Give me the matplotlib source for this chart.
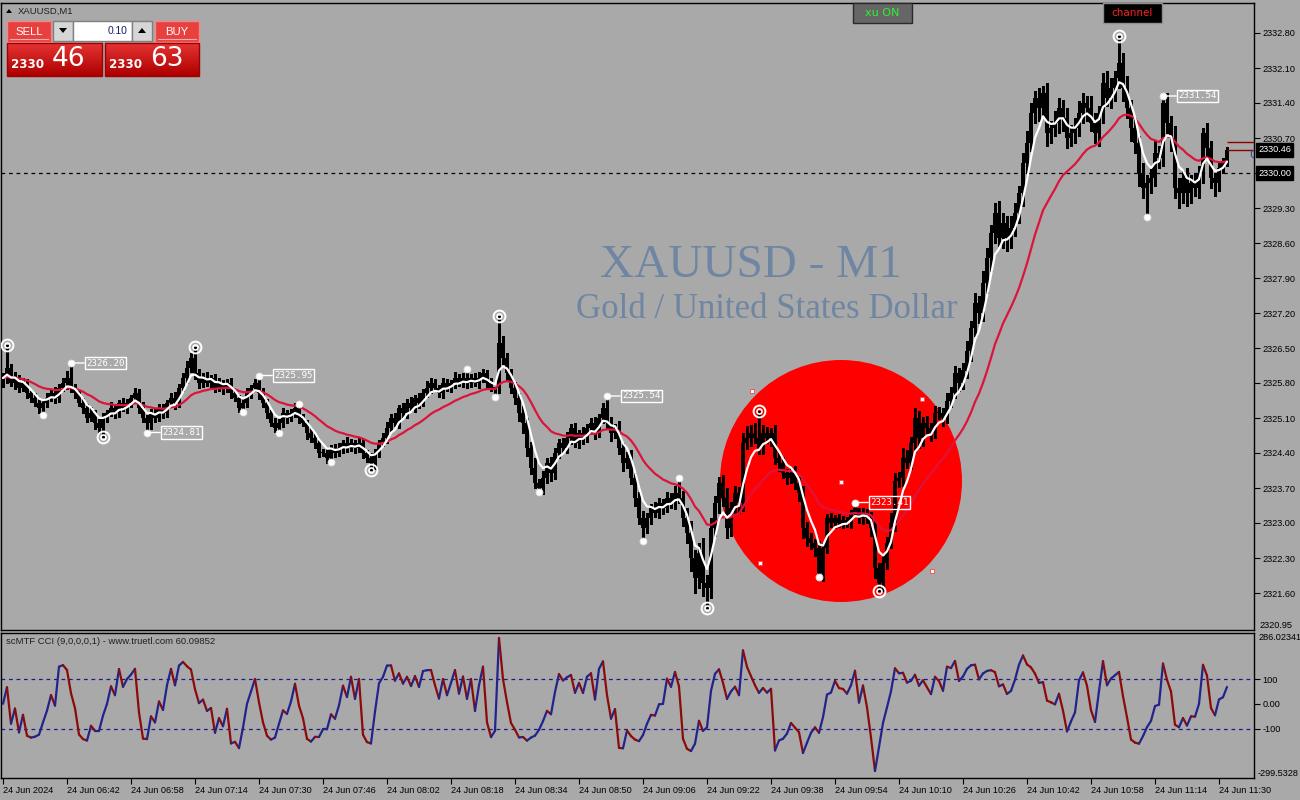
import numpy as np
import pandas as pd
import matplotlib
matplotlib.use("Agg")
import matplotlib.pyplot as plt
from matplotlib.patches import Rectangle, Ellipse, Polygon
from matplotlib.collections import LineCollection
from matplotlib.transforms import blended_transform_factory

# ---------------- data ----------------
symbol_title = "XAUUSD,M1"
watermark_1 = "XAUUSD - M1"
watermark_2 = "Gold / United States Dollar"
cci_title = "scMTF CCI (9,0,0,0,1) - www.truetl.com 60.09852"

first_open = 2325.8
closes = [
    2325.9, 2326.1, 2325.8, 2325.9, 2325.7, 2325.8, 2325.6, 2325.5, 2325.4, 2325.3,
    2325.4, 2325.5, 2325.6, 2325.5, 2325.7, 2325.8, 2325.9, 2325.7, 2325.6, 2325.4,
    2325.3, 2325.1, 2325.2, 2325.0, 2324.9, 2325.1, 2325.2, 2325.3, 2325.2, 2325.4,
    2325.3, 2325.4, 2325.5, 2325.6, 2325.3, 2325.1, 2325.0, 2325.2, 2325.1, 2325.3,
    2325.2, 2325.4, 2325.5, 2325.4, 2325.7, 2325.9, 2326.1, 2326.3, 2326.0, 2325.8,
    2325.9, 2325.8, 2325.9, 2325.7, 2325.8, 2325.7, 2325.8, 2325.6, 2325.5, 2325.3,
    2325.4, 2325.6, 2325.7, 2325.8, 2325.6, 2325.4, 2325.2, 2325.0, 2324.9, 2325.0,
    2325.2, 2325.1, 2325.2, 2325.3, 2325.1, 2325.0, 2324.8, 2324.7, 2324.6, 2324.4,
    2324.4, 2324.3, 2324.5, 2324.4, 2324.5, 2324.6, 2324.5, 2324.6, 2324.5, 2324.6,
    2324.4, 2324.3, 2324.2, 2324.4, 2324.6, 2324.7, 2324.9, 2325.1, 2325.0, 2325.3,
    2325.2, 2325.4, 2325.3, 2325.5, 2325.4, 2325.6, 2325.7, 2325.8, 2325.7, 2325.6,
    2325.8, 2325.7, 2325.8, 2325.9, 2325.8, 2325.9, 2325.8, 2325.9, 2325.8, 2325.9,
    2326.0, 2325.8, 2325.7, 2325.7, 2326.6, 2326.3, 2326.0, 2325.7, 2325.5, 2325.2,
    2325.0, 2324.5, 2324.1, 2323.8, 2323.7, 2323.9, 2324.2, 2324.0, 2324.4, 2324.6,
    2324.5, 2324.7, 2324.9, 2324.6, 2324.8, 2324.7, 2324.9, 2325.0, 2324.8, 2325.1,
    2325.3, 2325.0, 2324.8, 2324.9, 2324.5, 2324.2, 2324.3, 2323.9, 2323.5, 2323.1,
    2322.9, 2323.1, 2323.3, 2323.2, 2323.4, 2323.3, 2323.5, 2323.4, 2323.6, 2323.5,
    2323.1, 2322.8, 2322.3, 2321.9, 2322.4, 2321.8, 2321.7, 2322.9, 2323.4, 2323.8,
    2323.5, 2322.9, 2323.3, 2323.6, 2323.4, 2324.6, 2324.7, 2324.8, 2324.7, 2324.5,
    2324.8, 2324.7, 2324.8, 2324.3, 2324.2, 2324.0, 2323.9, 2324.0, 2323.8, 2323.6,
    2322.9, 2322.7, 2322.6, 2322.5, 2322.0, 2322.5, 2323.1, 2323.0, 2323.1, 2323.0,
    2323.05, 2323.0, 2323.2, 2323.3, 2323.1, 2323.2, 2323.1, 2322.9, 2322.1, 2321.8,
    2322.2, 2322.6, 2323.0, 2323.85, 2323.9, 2324.3, 2324.2, 2324.6, 2325.1, 2324.7,
    2325.0, 2324.9, 2324.8, 2325.2, 2325.2, 2325.1, 2325.45, 2325.6, 2326.0, 2325.8,
    2326.05, 2326.45, 2326.9, 2327.4, 2327.2, 2327.8, 2328.3, 2328.8, 2329.2, 2328.7,
    2329.0, 2328.7, 2328.9, 2329.2, 2329.6, 2330.2, 2330.6, 2331.2, 2331.5, 2331.3,
    2331.6, 2330.8, 2330.9, 2331.0, 2331.3, 2331.1, 2330.7, 2330.8, 2330.9, 2331.2,
    2331.4, 2331.3, 2331.0, 2330.8, 2331.2, 2331.8, 2331.5, 2331.7, 2331.9, 2332.2,
    2331.7, 2331.3, 2330.9, 2330.6, 2330.0, 2329.7, 2329.8, 2329.9, 2330.4, 2330.3,
    2331.4, 2331.0, 2330.7, 2329.7, 2329.6, 2329.9, 2329.6, 2329.8, 2329.7, 2330.0,
    2330.8, 2330.5, 2329.9, 2329.8, 2330.1, 2330.2, 2330.46,
]
# wick lengths in hundredths of a dollar
wick_up = [
    10, 0, 8, 12, 6, 10, 8, 5, 10, 7,  8, 10, 6, 12, 8, 10, 15, 0, 8, 6,
    10, 8, 12, 6, 8, 10, 7, 12, 8, 6,  10, 8, 6, 10, 8, 12, 6, 8, 10, 7,
    8, 6, 10, 12, 8, 10, 15, 10, 0, 8,  10, 12, 6, 8, 10, 6, 8, 10, 7, 6,
    8, 10, 6, 8, 0, 10, 8, 6, 10, 8,  10, 6, 8, 10, 0, 8, 6, 10, 8, 6,
    8, 10, 6, 8, 10, 6, 12, 8, 6, 10,  8, 6, 10, 8, 6, 10, 12, 8, 10, 6,
    10, 8, 12, 6, 10, 8, 15, 10, 8, 6,  10, 8, 6, 12, 8, 10, 0, 8, 10, 12,
    8, 6, 10, 0, 0, 15, 10, 8, 12, 10,  15, 10, 12, 20, 8, 15, 10, 12, 10, 8,
    10, 12, 8, 10, 6, 12, 8, 10, 12, 8,  10, 0, 12, 8, 15, 10, 12, 15, 10, 12,
    15, 10, 8, 12, 10, 8, 12, 10, 15, 0,  15, 20, 25, 15, 20, 30, 15, 20, 15, 12,
    15, 20, 12, 15, 12, 20, 25, 15, 20, 0,  15, 12, 10, 15, 10, 12, 8, 10, 15, 12,
    15, 12, 10, 8, 15, 10, 8, 10, 6, 8,  10, 8, 6, 12, 0, 10, 8, 12, 15, 10,
    15, 12, 20, 15, 12, 20, 15, 12, 20, 15,  12, 15, 10, 15, 12, 10, 15, 12, 15, 10,
    15, 20, 15, 20, 15, 25, 20, 15, 20, 25,  20, 15, 25, 20, 15, 20, 25, 20, 15, 20,
    15, 20, 15, 25, 20, 15, 20, 15, 20, 25,  20, 15, 25, 20, 15, 20, 25, 20, 15, 0,
    20, 25, 15, 20, 15, 20, 15, 20, 25, 15,  0, 20, 15, 25, 20, 15, 20, 15, 20, 15,
    10, 20, 15, 10, 15, 10, 5,
]
wick_dn = [
    8, 10, 6, 12, 8, 6, 10, 8, 6, 10,  0, 8, 6, 10, 8, 6, 12, 8, 10, 6,
    10, 8, 6, 12, 10, 0, 8, 6, 10, 8,  6, 10, 8, 6, 10, 8, 0, 12, 8, 6,
    10, 8, 6, 12, 8, 6, 10, 8, 12, 10,  8, 6, 10, 8, 6, 12, 8, 10, 6, 8,
    0, 8, 10, 6, 12, 8, 10, 6, 8, 0,  8, 10, 6, 8, 10, 6, 12, 8, 10, 8,
    6, 10, 0, 8, 6, 10, 8, 6, 10, 8,  10, 8, 0, 12, 8, 6, 10, 8, 6, 10,
    8, 10, 6, 8, 10, 6, 8, 10, 6, 8,  10, 6, 8, 10, 6, 8, 10, 8, 6, 10,
    8, 10, 6, 0, 10, 12, 15, 10, 12, 15,  20, 15, 12, 10, 0, 12, 10, 15, 12, 10,
    8, 10, 12, 8, 10, 12, 8, 10, 12, 8,  10, 12, 15, 10, 12, 15, 10, 12, 15, 12,
    0, 10, 12, 8, 10, 12, 8, 10, 12, 10,  15, 20, 25, 30, 20, 25, 0, 20, 15, 20,
    15, 20, 15, 12, 20, 15, 12, 15, 10, 12,  12, 10, 15, 12, 15, 10, 12, 10, 12, 15,
    20, 15, 12, 15, 0, 15, 10, 8, 10, 8,  10, 8, 10, 6, 10, 12, 10, 15, 20, 0,
    15, 12, 10, 15, 12, 15, 10, 12, 15, 20,  15, 12, 15, 10, 12, 15, 10, 12, 10, 15,
    12, 15, 20, 15, 20, 15, 20, 25, 20, 15,  20, 25, 20, 15, 20, 25, 20, 15, 20, 25,
    20, 25, 20, 15, 20, 25, 20, 15, 20, 15,  20, 25, 15, 20, 25, 20, 15, 20, 25, 20,
    25, 20, 25, 20, 25, 20, 0, 20, 15, 20,  15, 20, 25, 20, 30, 20, 25, 20, 15, 20,
    20, 15, 20, 25, 15, 10, 5,
]
# swing points (bar index -> price), drawn as markers
swing_highs = {1: 2326.56, 17: 2326.20, 48: 2326.52, 64: 2325.95, 74: 2325.38,
               116: 2326.08, 124: 2327.14, 151: 2325.54, 169: 2323.90,
               189: 2325.24, 213: 2323.41, 279: 2332.74, 290: 2331.54}
swing_lows = {10: 2325.16, 25: 2324.72, 36: 2324.81, 60: 2325.22, 69: 2324.80,
              82: 2324.22, 92: 2324.06, 123: 2325.52, 134: 2323.62, 160: 2322.64,
              176: 2321.30, 204: 2321.92, 219: 2321.64, 286: 2329.12}
ring_bars = [1, 25, 48, 92, 124, 176, 189, 219, 279]
labelled_bars = [17, 36, 64, 151, 213, 290]

bid, ask = 2330.46, 2330.63
level_line = 2330.00
price_ticks = [2332.80, 2332.10, 2331.40, 2330.70, 2330.00, 2329.30, 2328.60,
               2327.90, 2327.20, 2326.50, 2325.80, 2325.10, 2324.40, 2323.70,
               2323.00, 2322.30, 2321.60]
price_bottom_label = "2320.95"
cci_top, cci_bottom = 286.02341, -299.5328
cci_levels = [100, -100]
time_labels = ["24 Jun 2024", "24 Jun 06:42", "24 Jun 06:58", "24 Jun 07:14",
               "24 Jun 07:30", "24 Jun 07:46", "24 Jun 08:02", "24 Jun 08:18",
               "24 Jun 08:34", "24 Jun 08:50", "24 Jun 09:06", "24 Jun 09:22",
               "24 Jun 09:38", "24 Jun 09:54", "24 Jun 10:10", "24 Jun 10:26",
               "24 Jun 10:42", "24 Jun 10:58", "24 Jun 11:14", "24 Jun 11:30"]
bars_per_label = 16
# drawn ellipse object (bar index, price) and its handles
ellipse_center = (209.5, 2323.84)
ellipse_size = (60.5, 4.84)
ellipse_handles = [(187.25, 2325.64), (229.75, 2325.48), (189.25, 2322.20),
                   (232.25, 2322.04), (209.5, 2323.82)]
sell_price, buy_price = ("2330", "46"), ("2330", "63")
lot = "0.10"

# ---------------- derived ----------------
n = len(closes)
c = np.array(closes)
o = np.array([first_open] + closes[:-1])
hi = np.maximum(o, c) + np.array(wick_up) / 100.0
lo = np.minimum(o, c) - np.array(wick_dn) / 100.0
for k, v in swing_highs.items():
    hi[k] = v
for k, v in swing_lows.items():
    lo[k] = v
x = np.arange(n)
s = pd.Series(c)
ma_fast = s.ewm(span=5, adjust=False).mean().values
ma_slow = s.ewm(span=20, adjust=False).mean().values
sma = s.rolling(9, min_periods=1).mean()
md = s.rolling(9, min_periods=1).apply(lambda w: np.mean(np.abs(w - w.mean())), raw=True)
cci = ((s - sma) / (0.015 * md)).replace([np.inf, -np.inf], np.nan).fillna(0).values

# ---------------- figure ----------------
BG = "#A9A9A9"
W, H = 1300, 800
fig = plt.figure(figsize=(13, 8), dpi=100)
fig.patch.set_facecolor(BG)
def fx(px): return px / W
def fy(py): return 1 - py / H

AXL, AXR = 1, 1254
ax = fig.add_axes([fx(AXL), fy(630), (AXR - AXL) / W, (630 - 3) / H])
cax = fig.add_axes([fx(AXL), fy(778), (AXR - AXL) / W, (778 - 633) / H])
xl = ((AXL - 3) / 4.0, (AXR - 3) / 4.0)
for a in (ax, cax):
    a.set_facecolor(BG)
    a.set_xlim(*xl)
    for sp in a.spines.values():
        sp.set_color("black"); sp.set_linewidth(1)
ax.set_ylim(2320.86, 2333.40)
cax.set_ylim(cci_bottom, cci_top)

TF = "Liberation Sans"
# watermark
ax.text(fx(751), fy(266), watermark_1, transform=fig.transFigure, ha="center", va="center",
        family="Liberation Serif", fontsize=34, color="#6F86A2", zorder=0.5)
ax.text(fx(767), fy(309), watermark_2, transform=fig.transFigure, ha="center", va="center",
        family="Liberation Serif", fontsize=25, color="#6F86A2", zorder=0.5)

# ellipse
ax.add_patch(Ellipse(ellipse_center, ellipse_size[0], ellipse_size[1], fc="#FF0000",
                     ec="none", zorder=1))

# level line
ax.axhline(level_line, color="black", lw=0.9, ls=(0, (3, 3)), zorder=2)

# candles
ax.vlines(x, lo, hi, color="black", lw=1, zorder=3, antialiased=False)
bh = np.maximum(np.abs(c - o), 0.025)
ax.bar(x, bh, bottom=np.minimum(o, c), width=0.78, color="black", lw=0, zorder=3,
       antialiased=False)

# moving averages
ax.plot(x, ma_slow, color="#DC143C", lw=1.6, zorder=4, solid_capstyle="round")
ax.plot(x, ma_fast, color="white", lw=1.6, zorder=4.1, solid_capstyle="round")

# bid / ask lines
ax.hlines([ask, bid], n - 1, xl[1], color="#8B0000", lw=1, zorder=4)
ax.text(xl[1] - 1.2, bid - 0.1, "0", color="#2840A0", fontsize=8, ha="left", va="center",
        clip_on=True, zorder=4)

# swing markers
for k, v in list(swing_highs.items()) + list(swing_lows.items()):
    if k in ring_bars:
        ax.plot(k, v, "o", ms=8.5, mfc="none", mec="white", mew=1.4, zorder=6)
        ax.plot(k, v, "o", ms=3.6, mfc="none", mec="white", mew=1.2, zorder=6)
    else:
        ax.plot(k, v, "o", ms=5, mfc="white", mec="#E0E0E0", mew=0.6, zorder=6)
for k in labelled_bars:
    v = swing_highs.get(k, swing_lows.get(k))
    ax.annotate(f"{v:.2f}", xy=(k, v), xytext=(11, 0), textcoords="offset points",
                ha="left", va="center", color="white", fontsize=6.6, family="DejaVu Sans Mono",
                bbox=dict(boxstyle="square,pad=0.18", fc="none", ec="white", lw=1),
                arrowprops=dict(arrowstyle="-", color="white", lw=1, shrinkA=0, shrinkB=0),
                zorder=6)

# ellipse handles
for hx, hy in ellipse_handles:
    ax.plot(hx, hy, "s", ms=3, mfc="white", mec="#FF4040", mew=0.6, zorder=7)

# price axis (the 2330.00 level carries its own boxed label)
ax.yaxis.tick_right()
ax.set_yticks(price_ticks)
ax.set_yticklabels(["" if abs(v - level_line) < 1e-9 else f"{v:.2f}" for v in price_ticks],
                   family=TF, fontsize=6.6)
ax.tick_params(axis="y", direction="out", length=4, width=0.8, pad=2, colors="black")
ax.set_xticks([])
bt = blended_transform_factory(fig.transFigure, ax.transData)
ax.text(fx(1259), 2320.86, price_bottom_label, transform=bt, ha="left", va="bottom",
        family=TF, fontsize=6.6, color="black", clip_on=False)
for v in (bid, level_line):
    ax.text(fx(1258), v, f"{v:.2f}", transform=bt, ha="left", va="center", family=TF,
            fontsize=6.6, color="white", clip_on=False, zorder=10,
            bbox=dict(boxstyle="square,pad=0.22", fc="black", ec="black"))

# CCI
pts = np.column_stack([x, cci])
segs = np.stack([pts[:-1], pts[1:]], axis=1)
cols = ["#23238C" if cci[i + 1] >= cci[i] else "#8B0A0A" for i in range(n - 1)]
cax.add_collection(LineCollection(segs, colors=cols, linewidths=1.6, zorder=3,
                                  capstyle="round", joinstyle="round"))
for lv in cci_levels:
    cax.axhline(lv, color="#1A1A8C", lw=0.9, ls=(0, (3, 3)), zorder=2)
cax.yaxis.tick_right()
cax.set_yticks([100, 0, -100])
cax.set_yticklabels(["100", "0.00", "-100"], family=TF, fontsize=6.6)
cax.tick_params(axis="y", direction="out", length=4, width=0.8, pad=2, colors="black")
cbt = blended_transform_factory(fig.transFigure, cax.transAxes)
cax.text(fx(1258), 1.0, f"{cci_top:.5f}", transform=cbt, ha="left", va="top", family=TF,
         fontsize=6.6, color="black", clip_on=False)
cax.text(fx(1258), 0.0, f"{cci_bottom:.4f}", transform=cbt, ha="left", va="bottom", family=TF,
         fontsize=6.6, color="black", clip_on=False)
cax.text(0.004, 0.975, cci_title, transform=cax.transAxes, ha="left", va="top", family=TF,
         fontsize=6.8, color="#202020")
cax.set_xticks(np.arange(len(time_labels)) * bars_per_label)
cax.set_xticklabels(time_labels, family=TF, fontsize=6.6)
for t in cax.get_xticklabels():
    t.set_horizontalalignment("left")
cax.tick_params(axis="x", direction="out", length=4, width=0.8, pad=1.5, colors="black")

# ---------------- overlay UI (pixel coordinates) ----------------
oax = fig.add_axes([0, 0, 1, 1], zorder=20)
oax.set_xlim(0, W); oax.set_ylim(H, 0); oax.axis("off")
oax.patch.set_alpha(0)

oax.add_patch(Polygon([(6, 13), (12, 13), (9, 9)], closed=True, fc="black", ec="none"))
oax.text(18, 11, symbol_title, family=TF, fontsize=6.8, color="#202020", va="center")

def button(x0, y0, w, h, fc, ec, label=None, tc="white", fs=7.5, fam=TF, weight="normal"):
    oax.add_patch(Rectangle((x0, y0), w, h, fc=fc, ec=ec, lw=1))
    if label:
        oax.text(x0 + w / 2, y0 + h / 2 + 0.5, label, ha="center", va="center", color=tc,
                 fontsize=fs, family=fam, weight=weight)

button(7, 21, 44, 21, "#E8403E", "#F08888", "SELL", fs=8.2)
oax.plot([10, 48], [39, 39], color="#F4B0B0", lw=0.8)
button(155, 21, 44, 21, "#E8403E", "#F08888", "BUY", fs=8.2)
oax.plot([158, 196], [39, 39], color="#F4B0B0", lw=0.8)
button(53, 21, 20, 20, "#D6D6D6", "#808080")
oax.add_patch(Polygon([(59, 28), (67, 28), (63, 33)], closed=True, fc="black"))
button(73, 21, 59, 20, "white", "#808080")
oax.text(127, 31.5, lot, ha="right", va="center", color="#1A1A6A", fontsize=7.4, family=TF)
button(132, 21, 20, 20, "#D6D6D6", "#808080")
oax.add_patch(Polygon([(138, 33), (146, 33), (142, 28)], closed=True, fc="black"))

grad = np.linspace(0, 1, 40)[:, None, None]
top_c = np.array([0.90, 0.20, 0.20]); bot_c = np.array([0.68, 0.0, 0.0])
img = top_c * (1 - grad) + bot_c * grad
for x0, x1, (p1, p2), px1, px2 in [(7, 102, sell_price, 11, 52), (105, 199, buy_price, 109, 150)]:
    oax.imshow(img, extent=(x0, x1, 76, 43), aspect="auto", zorder=1, interpolation="bilinear")
    oax.add_patch(Rectangle((x0, 43), x1 - x0, 33, fc="none", ec="#A00000", lw=1, zorder=2))
    oax.text(px1, 65, p1, color="white", fontsize=8.6, weight="bold", family="DejaVu Sans",
             va="center", ha="left", zorder=3)
    oax.text(px2, 59, p2, color="white", fontsize=19, family="DejaVu Sans",
             va="center", ha="left", zorder=3)

button(853, 3, 59, 20, "#666666", "#2A2A2A", "xu ON", tc="#33EE33", fs=8, fam="DejaVu Sans")
button(1103, 3, 59, 20, "black", "#909090", "channel", tc="#FF2020", fs=7.5, fam="DejaVu Sans")
oax.set_xlim(0, W); oax.set_ylim(H, 0)

fig.savefig("out.png", dpi=100, facecolor=BG)
